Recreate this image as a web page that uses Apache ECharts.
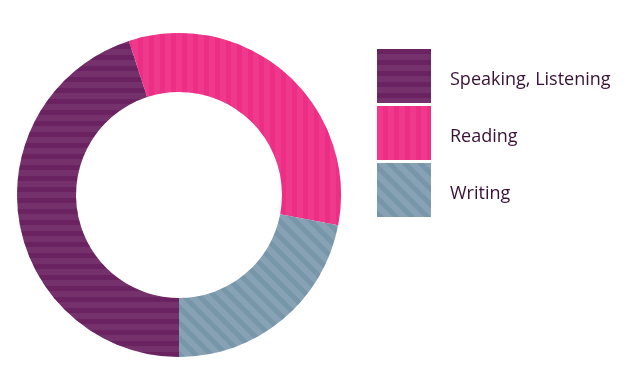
<!DOCTYPE html>
<html>
<head>
<meta charset="utf-8">
<script src="https://cdn.jsdelivr.net/npm/echarts@6/dist/echarts.min.js"></script>
<style>html,body{margin:0;padding:0;background:#fff}#c{width:631px;height:373px}</style>
</head>
<body>
<div id="c"></div>
<script>
var categories = ['Speaking, Listening', 'Reading', 'Writing'];
var values = [45, 33, 22];
var baseColors = ['#74316b', '#f0398d', '#87a2b4'];
var stripeColors = ['rgba(80,0,70,0.28)', 'rgba(225,20,115,0.3)', 'rgba(80,120,145,0.28)'];
var stripeRotation = [0, Math.PI / 2, Math.PI / 4];

var chart = echarts.init(document.getElementById('c'), null, {renderer: 'canvas'});
var data = categories.map(function (name, i) {
  return {
    name: name,
    value: values[i],
    itemStyle: {
      color: baseColors[i],
      decal: {
        symbol: 'rect',
        symbolSize: 1,
        dashArrayX: [1, 0],
        dashArrayY: [5, 6],
        rotation: stripeRotation[i],
        color: stripeColors[i]
      }
    }
  };
});
chart.setOption({
  animation: false,
  legend: {
    orient: 'vertical',
    left: 377,
    top: 49,
    padding: 0,
    itemWidth: 54,
    itemHeight: 54,
    itemGap: 3,
    icon: 'rect',
    selectedMode: false,
    formatter: '{t|{name}}',
    textStyle: {
      fontFamily: 'Open Sans',
      fontSize: 18,
      color: '#3a1036',
      padding: [0, 0, 0, 14],
      rich: {
        t: {
          fontFamily: 'Open Sans',
          fontSize: 18,
          color: '#3a1036',
          padding: [8, 0, 0, 0]
        }
      }
    },
    data: categories
  },
  series: [{
    type: 'pie',
    center: [179, 195],
    radius: [103, 162],
    startAngle: -90,
    clockwise: true,
    label: {show: false},
    labelLine: {show: false},
    emphasis: {disabled: true},
    itemStyle: {borderWidth: 0},
    data: data
  }]
});
</script>
</body>
</html>
